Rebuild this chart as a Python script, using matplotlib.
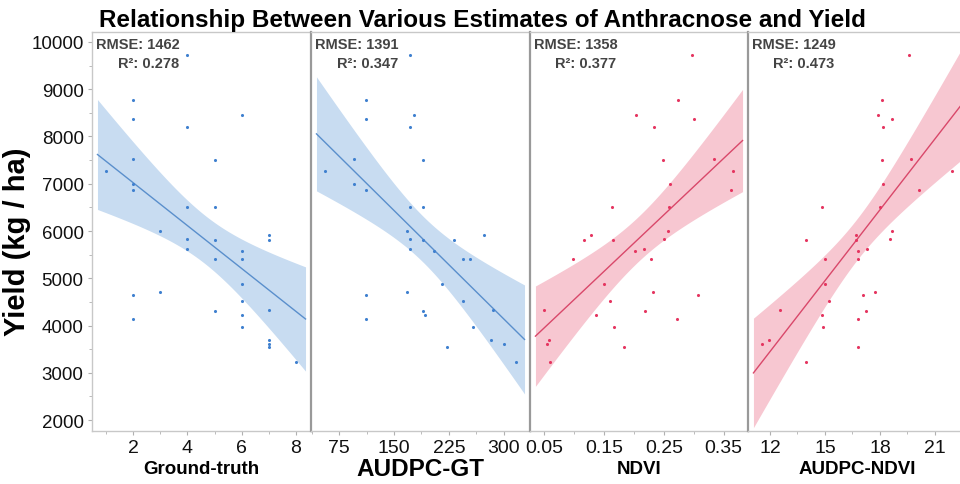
import numpy as np
import matplotlib
matplotlib.use("Agg")
import matplotlib.pyplot as plt
from matplotlib.ticker import MultipleLocator

plt.rcParams['font.family'] = ['Liberation Sans', 'DejaVu Sans']

# ---- data ----
yield_kg_ha = [9730, 8770, 8450, 8380, 8210, 7530, 7500, 7260, 6990, 6870,
               6510, 6510, 6010, 5920, 5830, 5810, 5800, 5630, 5580, 5410,
               5410, 4870, 4720, 4640, 4530, 4330, 4310, 4230, 4130, 3960,
               3690, 3620, 3550, 3240]

ground_truth = [4, 2, 6, 2, 4, 2, 5, 1, 2, 2,
                4, 5, 3, 7, 4, 5, 7, 4, 6, 5,
                6, 6, 3, 2, 6, 7, 5, 6, 2, 6,
                7, 7, 7, 8]

audpc_gt = [172, 112, 177, 112, 172, 95, 189, 56, 95, 112,
            172, 189, 167.5, 273, 172, 189, 232, 172, 205, 245,
            253.5, 216, 167.5, 112, 245, 286, 189, 193, 112, 257.6,
            283, 300, 223, 316.6]

ndvi = [0.2975, 0.2746, 0.2037, 0.3009, 0.2333, 0.3344, 0.2495, 0.3662, 0.2607, 0.3617,
        0.163, 0.259, 0.2573, 0.1277, 0.2506, 0.1657, 0.116, 0.2166, 0.2026, 0.0986,
        0.2288, 0.150, 0.2322, 0.3081, 0.1601, 0.0495, 0.2193, 0.1372, 0.2729, 0.1668,
        0.0584, 0.055, 0.1831, 0.060]

audpc_ndvi = [19.58, 18.13, 17.87, 18.67, 18.15, 19.69, 18.13, 21.91, 18.18, 20.13,
              14.85, 18.0, 18.67, 16.69, 18.53, 13.98, 16.67, 17.29, 16.8, 14.98,
              16.8, 15.02, 17.71, 17.09, 15.2, 12.56, 17.26, 14.85, 16.82, 14.89,
              11.96, 11.58, 16.78, 13.98]

x_labels = ["Ground-truth", "AUDPC-GT", "NDVI", "AUDPC-NDVI"]
rmse_labels = ["RMSE: 1462", "RMSE: 1391", "RMSE: 1358", "RMSE: 1249"]
r2_labels = ["R²: 0.278", "R²: 0.347", "R²: 0.377", "R²: 0.473"]
x_ticks = [[2, 4, 6, 8], [75, 150, 225, 300], [0.05, 0.15, 0.25, 0.35], [12, 15, 18, 21]]
x_tick_text = [["2", "4", "6", "8"], ["75", "150", "225", "300"],
               ["0.05", "0.15", "0.25", "0.35"], ["12", "15", "18", "21"]]

# ---- styling ----
xs_all = [ground_truth, audpc_gt, ndvi, audpc_ndvi]
xlims = [(0.48, 8.56), (36.4, 336), (0.026, 0.391), (10.8, 22.7)]
minor = [1, 37.5, 0.05, 1.5]
point_col = ['#3f80cf', '#3f80cf', '#e53560', '#e53560']
line_col = ['#5a8fcc', '#5a8fcc', '#d9486a', '#d9486a']
band_col = ['#c8dcf1', '#c8dcf1', '#f7c7d1', '#f7c7d1']
xlabel_size = [13.5, 17.5, 13.5, 13.5]

W, H = 960, 485
fig = plt.figure(figsize=(W / 100, H / 100), dpi=100)
lefts = [92, 311, 530, 748]
widths = [219, 219, 218, 218]
top, bot = 33, 432

T_CRIT = 2.037  # t(0.975, df=32)

y = np.array(yield_kg_ha, dtype=float)
for i in range(4):
    ax = fig.add_axes([lefts[i] / W, (H - bot) / H, widths[i] / W, (bot - top) / H])
    x = np.array(xs_all[i], dtype=float)
    n = len(x)
    b, a = np.polyfit(x, y, 1)
    resid = y - (a + b * x)
    s = np.sqrt(np.sum(resid ** 2) / (n - 2))
    xm = x.mean()
    sxx = np.sum((x - xm) ** 2)
    lo, hi = xlims[i]
    span = hi - lo
    xg = np.linspace(lo + 0.025 * span, hi - 0.025 * span, 200)
    yg = a + b * xg
    se = s * np.sqrt(1 / n + (xg - xm) ** 2 / sxx)
    ax.fill_between(xg, yg - T_CRIT * se, yg + T_CRIT * se, color=band_col[i], lw=0, zorder=1)
    ax.plot(xg, yg, color=line_col[i], lw=1.0, zorder=2)
    ax.scatter(x, y, s=5, color=point_col[i], zorder=3, linewidths=0)

    ax.set_xlim(lo, hi)
    ax.set_ylim(1770, 10210)
    ax.set_xticks(x_ticks[i])
    ax.set_xticklabels(x_tick_text[i])
    ax.xaxis.set_minor_locator(MultipleLocator(minor[i]))
    ax.tick_params(axis='x', which='both', direction='out', length=3, color='#b0b0b0',
                   labelsize=14, pad=3, labelcolor='#111111')
    ax.tick_params(axis='x', which='minor', length=2)
    ax.set_xlabel(x_labels[i], fontsize=xlabel_size[i], fontweight='bold')
    ax.xaxis.set_label_coords(0.5, (bot - 470) / (bot - top))
    ax.xaxis.label.set_va('center')

    ax.set_yticks(range(2000, 10001, 1000))
    ax.yaxis.set_minor_locator(MultipleLocator(500))
    if i == 0:
        ax.tick_params(axis='y', which='both', direction='out', length=3, color='#b0b0b0',
                       labelsize=13.5, pad=3, labelcolor='#111111')
        ax.tick_params(axis='y', which='minor', length=2)
        ax.set_ylabel("Yield (kg / ha)", fontsize=21, fontweight='bold')
        ax.yaxis.set_label_coords((17.5 - lefts[0]) / widths[0], (bot - 242) / (bot - top))
        ax.yaxis.label.set_va('center')
    else:
        ax.tick_params(axis='y', which='both', left=False, labelleft=False)

    for sp in ['top', 'bottom']:
        ax.spines[sp].set_color('#c8c8c8')
        ax.spines[sp].set_linewidth(1.0)
    ax.spines['left'].set_color('#999999' if i > 0 else '#c8c8c8')
    ax.spines['left'].set_linewidth(1.6 if i > 0 else 1.0)
    ax.spines['right'].set_color('#999999')
    ax.spines['right'].set_linewidth(1.0)

    ax.text(0.02, 0.987, rmse_labels[i], transform=ax.transAxes, ha='left', va='top',
            fontsize=10.5, fontweight='bold', color='#444444')
    ax.text(0.397, 0.94, r2_labels[i], transform=ax.transAxes, ha='right', va='top',
            fontsize=10.5, fontweight='bold', color='#444444')

fig.text(0.503, (H - 26.7) / H, "Relationship Between Various Estimates of Anthracnose and Yield",
         ha='center', va='baseline', fontsize=17.5, fontweight='bold')

fig.savefig("out.png", dpi=100)
